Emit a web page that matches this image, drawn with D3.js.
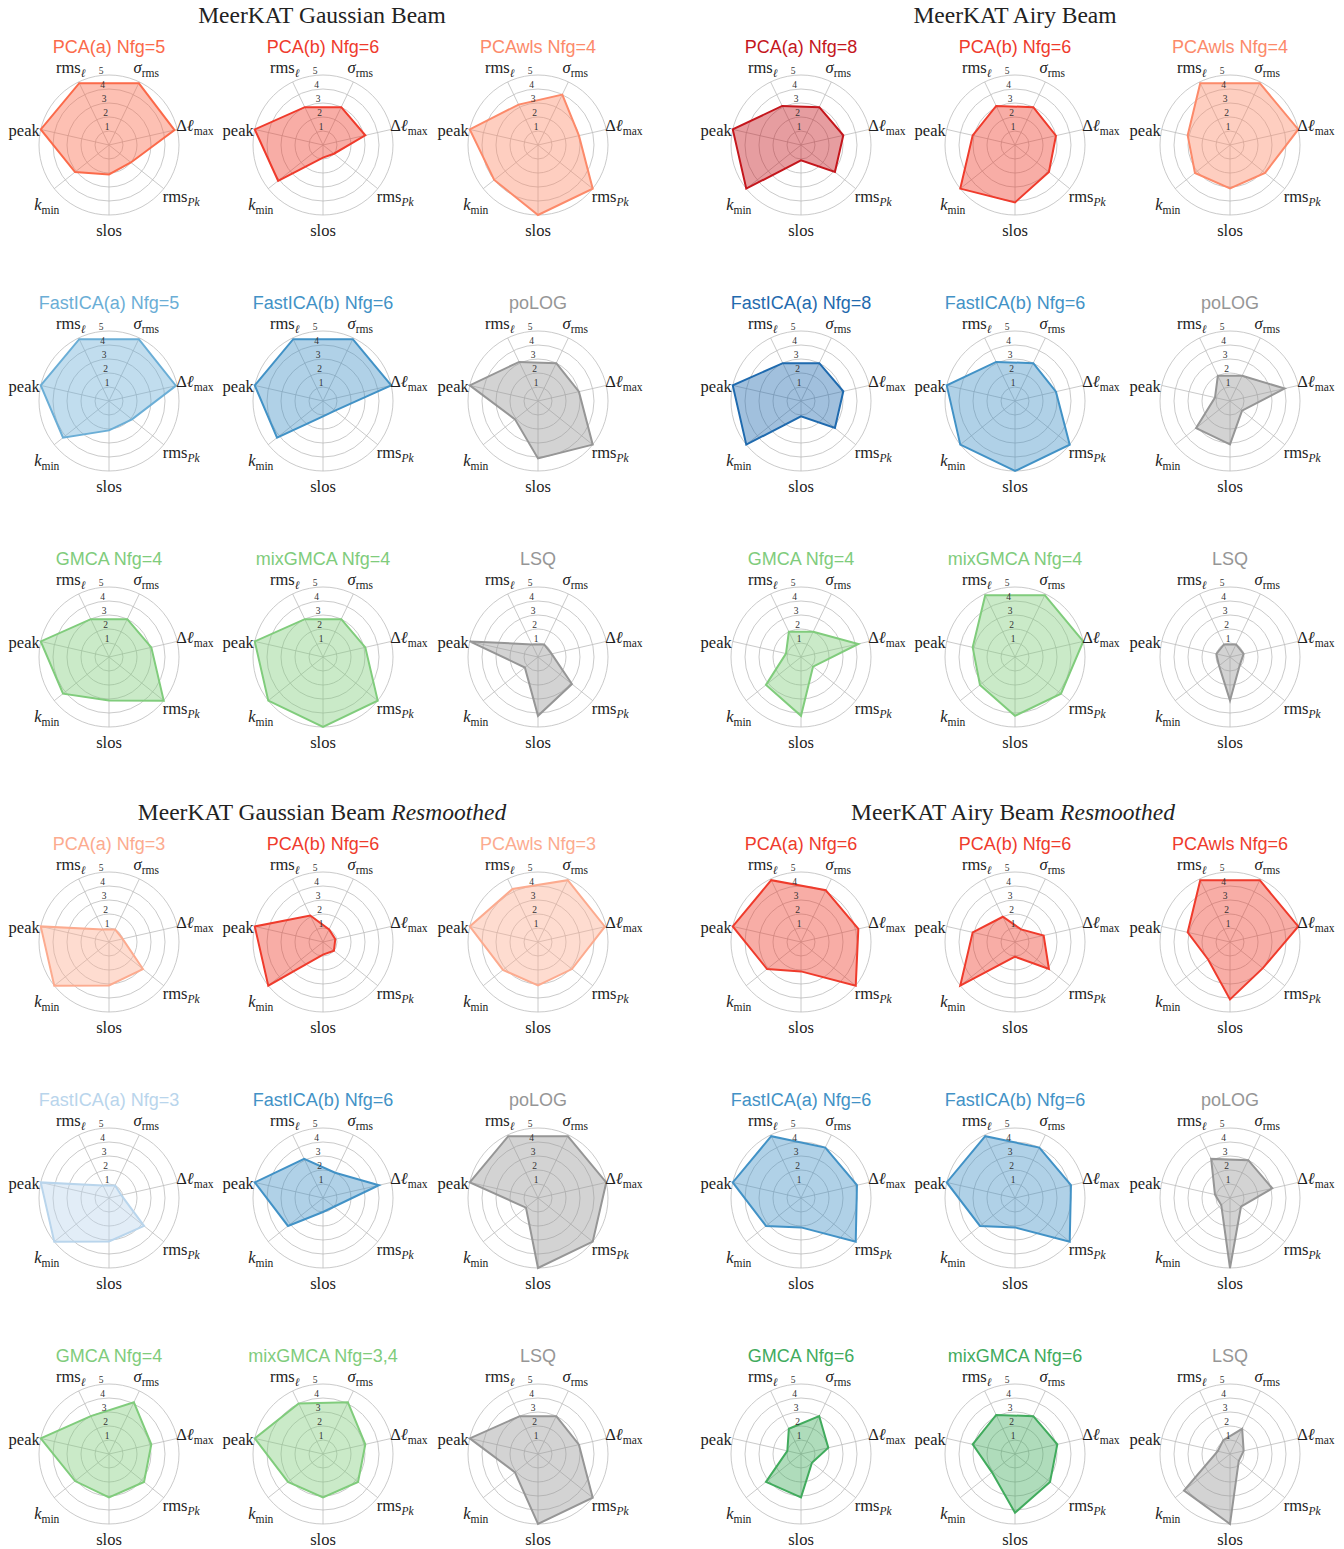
<!DOCTYPE html>
<html>
<head>
<meta charset="utf-8">
<script src="https://cdn.jsdelivr.net/npm/d3@7"></script>
<style>
  body { margin: 0; background: #fff; }
  svg text { fill: #222; }
</style>
</head>
<body>
<svg id="chart" width="1344" height="1549"></svg>
<script>
// ---- data -------------------------------------------------------------
// score axes, clockwise from the upper right
const axisNames = ["sigma_rms", "dl_max", "rms_Pk", "slos", "k_min", "peak", "rms_l"];
// rendered axis labels (parts: s = subscript, i = italic)
const axisLabels = [
  [{ t: "σ", i: true }, { t: "rms", s: true }],
  [{ t: "Δ" }, { t: "ℓ", i: true }, { t: "max", s: true }],
  [{ t: "rms" }, { t: "Pk", s: true, i: true }],
  [{ t: "slos" }],
  [{ t: "k", i: true }, { t: "min", s: true }],
  [{ t: "peak" }],
  [{ t: "rms" }, { t: "ℓ", s: true, i: true }]
];
const radialTicks = [1, 2, 3, 4, 5];

const sectionTitles = ["MeerKAT Gaussian Beam", "MeerKAT Airy Beam", "MeerKAT Gaussian Beam", "MeerKAT Airy Beam"];
const sectionSuffix = ["", "", "Resmoothed", "Resmoothed"];

const gaussMethods = ["PCA(a) Nfg=5", "PCA(b) Nfg=6", "PCAwls Nfg=4",
                      "FastICA(a) Nfg=5", "FastICA(b) Nfg=6", "poLOG",
                      "GMCA Nfg=4", "mixGMCA Nfg=4", "LSQ"];
const gaussScores = [
  [4.9, 4.8, 2.0, 2.1, 3.1, 5.0, 4.9],
  [3.0, 3.1, 1.0, 0.9, 4.1, 5.0, 3.0],
  [4.0, 3.0, 5.0, 5.0, 4.0, 5.0, 3.2],
  [4.9, 4.9, 2.1, 2.1, 4.2, 5.0, 4.9],
  [4.9, 5.0, 1.1, 1.1, 4.2, 5.0, 4.9],
  [3.0, 3.0, 5.0, 4.1, 2.1, 5.0, 3.1],
  [3.0, 3.1, 5.0, 3.1, 4.2, 5.0, 3.0],
  [3.0, 3.1, 5.0, 5.0, 5.0, 5.0, 3.0],
  [1.0, 1.0, 3.1, 4.2, 1.2, 5.0, 1.0]
];

const airyMethods = ["PCA(a) Nfg=8", "PCA(b) Nfg=6", "PCAwls Nfg=4",
                     "FastICA(a) Nfg=8", "FastICA(b) Nfg=6", "poLOG",
                     "GMCA Nfg=4", "mixGMCA Nfg=4", "LSQ"];
const airyScores = [
  [3.0, 3.1, 3.1, 1.1, 5.0, 5.0, 3.1],
  [3.0, 3.0, 3.1, 4.1, 5.0, 3.1, 3.1],
  [4.9, 5.0, 3.2, 3.1, 3.2, 3.1, 4.9],
  [3.0, 3.1, 3.1, 1.1, 5.0, 5.0, 3.0],
  [3.0, 3.0, 5.0, 5.0, 5.0, 5.0, 3.1],
  [2.0, 4.0, 1.1, 3.1, 3.1, 1.1, 2.0],
  [2.0, 4.2, 1.1, 4.2, 3.2, 1.1, 2.0],
  [4.9, 5.0, 4.2, 4.2, 3.2, 3.1, 4.9],
  [1.0, 1.0, 0.9, 3.1, 1.0, 1.0, 1.0]
];

const gaussResMethods = ["PCA(a) Nfg=3", "PCA(b) Nfg=6", "PCAwls Nfg=3",
                         "FastICA(a) Nfg=3", "FastICA(b) Nfg=6", "poLOG",
                         "GMCA Nfg=4", "mixGMCA Nfg=3,4", "LSQ"];
const gaussResScores = [
  [1.0, 1.0, 3.1, 3.1, 5.0, 5.0, 1.0],
  [1.0, 0.9, 1.0, 0.9, 5.0, 5.0, 2.1],
  [4.9, 4.9, 3.1, 3.1, 3.2, 5.0, 4.2],
  [1.0, 0.9, 3.2, 3.1, 5.0, 5.0, 1.0],
  [2.0, 4.1, 1.0, 1.0, 3.2, 5.0, 3.1],
  [4.9, 5.0, 5.0, 5.0, 1.1, 5.0, 4.9],
  [4.1, 3.1, 3.2, 3.1, 3.1, 5.0, 3.0],
  [4.1, 3.1, 3.2, 3.1, 3.2, 5.0, 4.0],
  [3.0, 3.0, 5.0, 5.0, 2.1, 5.0, 3.0]
];

const airyResMethods = ["PCA(a) Nfg=6", "PCA(b) Nfg=6", "PCAwls Nfg=6",
                        "FastICA(a) Nfg=6", "FastICA(b) Nfg=6", "poLOG",
                        "GMCA Nfg=6", "mixGMCA Nfg=6", "LSQ"];
const airyResScores = [
  [4.1, 4.2, 5.0, 2.1, 3.1, 5.0, 4.9],
  [1.0, 2.1, 3.1, 1.05, 5.0, 3.1, 2.0],
  [4.9, 5.0, 3.0, 4.1, 2.0, 3.1, 4.9],
  [4.0, 4.1, 5.0, 2.1, 3.2, 5.0, 4.9],
  [4.0, 4.1, 5.0, 2.1, 3.2, 5.0, 4.9],
  [3.0, 3.1, 1.0, 5.0, 0.8, 1.1, 3.1],
  [3.0, 2.0, 1.0, 3.1, 3.2, 1.0, 2.0],
  [3.0, 3.1, 3.2, 4.2, 2.1, 3.1, 3.1],
  [2.0, 1.0, 0.8, 5.0, 4.2, 0.9, 1.1]
];

const sectionMethods = [gaussMethods, airyMethods, gaussResMethods, airyResMethods];
const sectionScores = [gaussScores, airyScores, gaussResScores, airyResScores];

// ---- styling ----------------------------------------------------------
const shades = {
  red:   { "3": "#fcab8f", "4": "#fc8a6a", "5": "#fb6a4a", "6": "#ef3b2c", "8": "#c4161c" },
  blue:  { "3": "#b9d5ec", "5": "#6baed6", "6": "#4292c6", "8": "#1f6aae" },
  green: { "3,4": "#80cc7c", "4": "#80cc7c", "6": "#41ab5d" }
};
function colorFor(title) {
  const m = title.match(/Nfg=([\d,]+)/);
  const n = m ? m[1] : null;
  if (/^PCA/.test(title)) return shades.red[n];
  if (/^FastICA/.test(title)) return shades.blue[n];
  if (/GMCA/.test(title)) return shades.green[n];
  return "#969696";
}

const serif = "'Liberation Serif', 'DejaVu Serif', serif";
const sans = "'Liberation Sans', Arial, sans-serif";

const R = 70;
const rScale = d3.scaleLinear().domain([0, 5]).range([0, R]);
const angleScale = d3.scaleLinear().domain([0, axisNames.length]).range([Math.PI / 7, Math.PI / 7 + 2 * Math.PI]);

const colX = [[109, 323, 538], [801, 1015, 1230]];
const rowY = [[145, 401, 657], [942, 1198, 1454]];
const sectionX = [322, 1015, 322, 1013];
const sectionY = [23, 23, 820, 820];
// small nudges so the axis labels sit like typeset tick labels
const labelNudge = [[0, 0], [2, 0], [5, -2], [0, 0], [5, 6], [-1, 5], [-1, 0]];

const svg = d3.select("#chart");

function drawRadar(g, title, scores) {
  const col = colorFor(title);

  g.selectAll("circle.grid").data(radialTicks).join("circle")
    .attr("class", "grid")
    .attr("r", d => rScale(d))
    .attr("fill", "none")
    .attr("stroke", "#bdbdbd")
    .attr("stroke-width", 0.8);

  g.selectAll("line.spoke").data(axisNames).join("line")
    .attr("class", "spoke")
    .attr("x1", 0).attr("y1", 0)
    .attr("x2", (d, i) => R * Math.sin(angleScale(i)))
    .attr("y2", (d, i) => -R * Math.cos(angleScale(i)))
    .attr("stroke", "#bdbdbd")
    .attr("stroke-width", 0.8);

  const radial = d3.lineRadial()
    .angle((d, i) => angleScale(i))
    .radius(d => rScale(d))
    .curve(d3.curveLinearClosed);

  g.append("path")
    .attr("d", radial(scores))
    .attr("fill", col)
    .attr("fill-opacity", 0.42)
    .attr("stroke", col)
    .attr("stroke-width", 2)
    .attr("stroke-linejoin", "miter");

  // radial tick labels
  const tickAngle = -6 * Math.PI / 180;
  g.selectAll("text.rtick").data(radialTicks).join("text")
    .attr("class", "rtick")
    .attr("x", d => (rScale(d) + 4.5) * Math.sin(tickAngle))
    .attr("y", d => -(rScale(d) + 4.5) * Math.cos(tickAngle) + 3.3)
    .attr("text-anchor", "middle")
    .attr("font-family", serif)
    .attr("font-size", 9.5)
    .style("fill", "#333")
    .text(d => d);

  // axis labels
  axisLabels.forEach((parts, i) => {
    const a = angleScale(i), rl = 86;
    const x = rl * Math.sin(a) + labelNudge[i][0];
    const y = -rl * Math.cos(a) + 5 + labelNudge[i][1];
    const t = g.append("text")
      .attr("x", x).attr("y", y)
      .attr("text-anchor", "middle")
      .attr("font-family", serif)
      .attr("font-size", 16.5);
    parts.forEach(p => {
      const ts = t.append("tspan").text(p.t);
      if (p.i) ts.attr("font-style", "italic");
      if (p.s) ts.attr("font-size", 11.5).attr("dy", 4);
    });
  });

  g.append("text")
    .attr("x", 0).attr("y", -92.5)
    .attr("text-anchor", "middle")
    .attr("font-family", sans)
    .attr("font-size", 18)
    .style("fill", col)
    .text(title);
}

sectionTitles.forEach((name, s) => {
  const t = svg.append("text")
    .attr("x", sectionX[s]).attr("y", sectionY[s])
    .attr("text-anchor", "middle")
    .attr("font-family", serif)
    .attr("font-size", 23.5)
    .text(name);
  if (sectionSuffix[s]) {
    t.append("tspan").text(" ");
    t.append("tspan").attr("font-style", "italic").text(sectionSuffix[s]);
  }
  const half = Math.floor(s / 2), side = s % 2;
  sectionMethods[s].forEach((title, k) => {
    const r = Math.floor(k / 3), c = k % 3;
    const g = svg.append("g")
      .attr("transform", `translate(${colX[side][c]},${rowY[half][r]})`);
    drawRadar(g, title, sectionScores[s][k]);
  });
});
</script>
</body>
</html>
